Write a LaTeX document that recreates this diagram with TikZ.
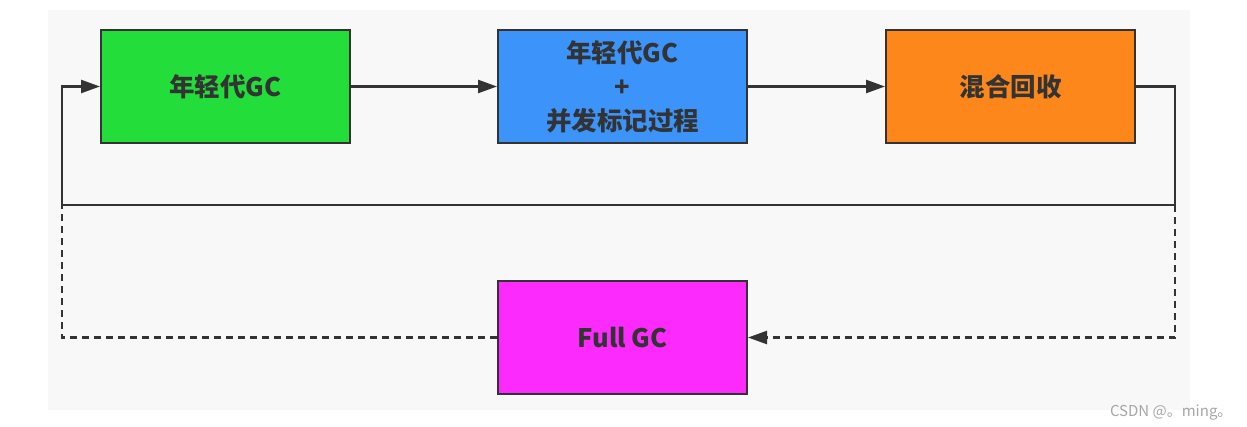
\documentclass[tikz,border=0pt]{standalone}
\usepackage{fontspec}
\setmainfont{Noto Sans CJK SC}
\usepackage{tikz}
\usetikzlibrary{arrows.meta, positioning, calc}
\definecolor{lineGray}{HTML}{333333}
\definecolor{panelGray}{HTML}{F7F8F7}
\definecolor{gcGreen}{HTML}{22DD3A}
\definecolor{gcBlue}{HTML}{3C94FB}
\definecolor{gcOrange}{HTML}{FD871B}
\definecolor{gcMagenta}{HTML}{FD2AFD}

\begin{document}
\begin{tikzpicture}[
x=1pt, y=-1pt,
node distance=136pt and 146pt,
box/.style={rectangle, draw=lineGray, line width=2pt, align=center, minimum width=249pt, minimum height=113pt, font=\fontsize{25.5}{34}\selectfont\bfseries, text=lineGray, inner sep=0pt},
arrow/.style={-{Triangle[length=19pt, width=13pt]}, line width=2.4pt, lineGray},
link/.style={line width=2.4pt, lineGray}
]
\useasboundingbox (0,0) rectangle (1247,426);
\fill[panelGray] (48,10) rectangle (1190,410);

\node[box, fill=gcGreen, anchor=north west] (young) at (100,29) {年轻代GC};
\node[box, fill=gcBlue, right=of young] (mark) {年轻代GC\\+\\并发标记过程};
\node[box, fill=gcOrange, right=137pt of mark] (mixed) {混合回收};
\node[box, fill=gcMagenta, below=of mark] (full) {Full GC};

% turning points of the loop
\coordinate (loopR) at (1175,205);
\coordinate (loopL) at (62,205);

\draw[arrow] (young) -- (mark);
\draw[arrow] (mark) -- (mixed);
\draw[arrow] (mixed.east) -| (loopR) -- (loopL) |- (young.west);
\draw[arrow, dash pattern=on 7pt off 5pt] (loopR) |- (full.east);
\draw[link, dash pattern=on 7pt off 5pt] (full.west) -| (loopL);

\node[anchor=base east, text=gray!70, font=\fontsize{15}{18}\selectfont] (mark2) at (1236,416) {CSDN @。ming。};
\end{tikzpicture}
\end{document}
